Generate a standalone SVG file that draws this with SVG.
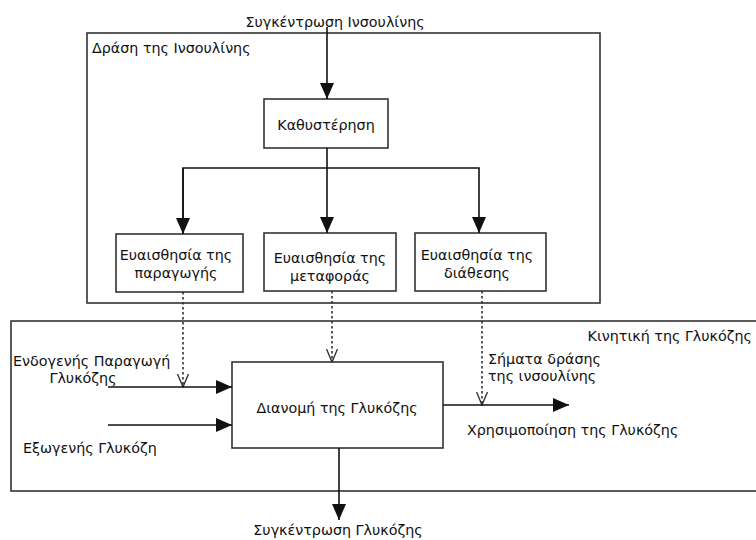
<svg xmlns="http://www.w3.org/2000/svg" width="756" height="540" viewBox="0 0 756 540">
<style>
text{font-family:"DejaVu Sans","Liberation Sans",sans-serif;font-size:14.3px;fill:#111}
.box{fill:#fff;stroke:#333;stroke-width:1.6}
.frame{fill:none;stroke:#333;stroke-width:1.6}
.ln{fill:none;stroke:#111;stroke-width:1.6}
.dot{fill:none;stroke:#333;stroke-width:1.6;stroke-dasharray:2.5,2.5}
.m{text-anchor:middle}
</style>
<defs>
<marker id="arrL" viewBox="0 0 16 14" refX="16" refY="7" markerWidth="16" markerHeight="14" markerUnits="userSpaceOnUse" orient="auto">
<path d="M0,0 L16,7 L0,14 z" fill="#111"/>
</marker>
<marker id="open" viewBox="0 0 14 12" refX="13" refY="6" markerWidth="14" markerHeight="12" markerUnits="userSpaceOnUse" orient="auto">
<path d="M0,0.5 L13,6 L0,11.5" fill="none" stroke="#333" stroke-width="1.4"/>
</marker>
</defs>
<g id="insulin-action-frame">
<rect class="frame" x="87" y="33" width="513" height="270"/>
<text x="92" y="53">Δράση της Ινσουλίνης</text>
</g>
<g id="glucose-kinetics-frame">
<rect class="frame" x="11" y="321" width="750" height="170"/>
<text x="752" y="341" text-anchor="end">Κινητική της Γλυκόζης</text>
</g>
<g id="delay">
<rect class="box" x="264" y="99" width="124" height="49"/>
<text class="m" x="326" y="130">Καθυστέρηση</text>
</g>
<g id="sens-production">
<rect class="box" x="116" y="234" width="127" height="58"/>
<text class="m" x="176" y="260">Ευαισθησία της</text>
<text class="m" x="176" y="278">παραγωγής</text>
</g>
<g id="sens-transport">
<rect class="box" x="264" y="233" width="132" height="58"/>
<text class="m" x="330" y="263">Ευαισθησία της</text>
<text class="m" x="330" y="281">μεταφοράς</text>
</g>
<g id="sens-disposal">
<rect class="box" x="415" y="233" width="131" height="58"/>
<text class="m" x="477" y="260">Ευαισθησία της</text>
<text class="m" x="477" y="278">διάθεσης</text>
</g>
<g id="distribution">
<rect class="box" x="232" y="362" width="211" height="86"/>
<text class="m" x="337" y="413">Διανομή της Γλυκόζης</text>
</g>
<g id="labels">
<text class="m" x="335" y="27">Συγκέντρωση Ινσουλίνης</text>
<text x="13" y="366">Ενδογενής Παραγωγή</text>
<text class="m" x="83" y="383">Γλυκόζης</text>
<text x="23" y="453">Εξωγενής Γλυκόζη</text>
<text x="488" y="364">Σήματα δράσης</text>
<text x="488" y="381">της ινσουλίνης</text>
<text x="467" y="435">Χρησιμοποίηση της Γλυκόζης</text>
<text class="m" x="338" y="535">Συγκέντρωση Γλυκόζης</text>
</g>
<g id="connectors">
<line class="ln" x1="327" y1="27" x2="327" y2="99" marker-end="url(#arrL)"/>
<line class="ln" x1="327" y1="148" x2="327" y2="233" marker-end="url(#arrL)"/>
<polyline class="ln" points="183,233 183,168 479,168 479,233" marker-end="url(#arrL)"/>
<line class="ln" x1="183" y1="168" x2="183" y2="234" marker-end="url(#arrL)"/>
<line class="dot" x1="183" y1="292" x2="183" y2="387" marker-end="url(#open)"/>
<line class="dot" x1="332" y1="291" x2="332" y2="362" marker-end="url(#open)"/>
<line class="dot" x1="482" y1="291" x2="482" y2="405" marker-end="url(#open)"/>
<line class="ln" x1="108" y1="387" x2="232" y2="387" marker-end="url(#arrL)"/>
<line class="ln" x1="108" y1="425" x2="232" y2="425" marker-end="url(#arrL)"/>
<line class="ln" x1="443" y1="405" x2="569" y2="405" marker-end="url(#arrL)"/>
<line class="ln" x1="339" y1="448" x2="339" y2="520" marker-end="url(#arrL)"/>
</g>
</svg>
